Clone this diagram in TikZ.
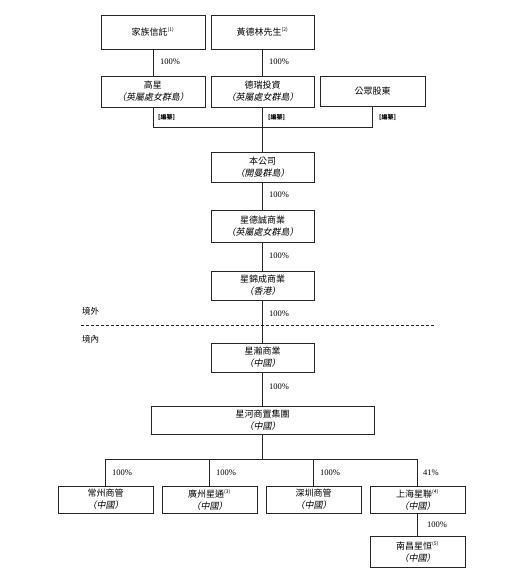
\documentclass[tikz,border=0pt]{standalone}
\usepackage{fontspec}
\setmainfont{Liberation Serif}
\newfontfamily\cjk{Noto Sans CJK TC}
\newfontfamily\cjkit[FakeSlant=0.2]{Noto Sans CJK TC}
\newcommand\fnote[1]{\textsuperscript{\fontsize{5}{5}\selectfont(#1)}}
\begin{document}
\begin{tikzpicture}[x=1pt,y=-1pt,
  ent/.style={draw=black!85,line width=0.9pt,inner sep=0pt,align=center,
    font=\fontsize{9}{12}\selectfont\cjk,minimum height=30pt},
  pct/.style={anchor=west,inner sep=0pt,font=\fontsize{8.5}{10}\selectfont},
  redact/.style={anchor=west,inner sep=0pt,font=\fontsize{6}{7}\selectfont\bfseries\cjk},
  region/.style={anchor=west,inner sep=0pt,font=\fontsize{8.5}{10}\selectfont\cjk},
  link/.style={draw=black!85,line width=0.8pt}]
\useasboundingbox (0,0) rectangle (517,582);
% top row
\node[ent,minimum width=104pt,minimum height=34pt] (jia) at (153,32) {家族信託\fnote{1}};
\node[ent,minimum width=103pt,minimum height=34pt] (huang) at (262.5,32) {黃德林先生\fnote{2}};
% second row
\node[ent,minimum width=104pt,minimum height=31pt] (gx) at (153,91.5) {高星\\{\cjkit （英屬處女群島）}};
\node[ent,minimum width=103pt,minimum height=31pt] (dr) at (262.5,91.5) {德瑞投資\\{\cjkit （英屬處女群島）}};
\node[ent,minimum width=105pt,minimum height=30pt] (gz) at (372.5,91.5) {公眾股東};
% centre column
\node[ent,minimum width=103pt,minimum height=30pt] (co) at (262.5,167) {本公司\\{\cjkit （開曼群島）}};
\node[ent,minimum width=103pt,minimum height=32pt] (xdc) at (262.5,226) {星德誠商業\\{\cjkit （英屬處女群島）}};
\node[ent,minimum width=103pt,minimum height=29pt] (xjc) at (262.5,285.5) {星錦成商業\\{\cjkit （香港）}};
\node[ent,minimum width=103pt,minimum height=29pt] (xh) at (262.5,357.5) {星瀚商業\\{\cjkit （中國）}};
\node[ent,minimum width=223pt,minimum height=28pt] (xhe) at (262.5,420) {星河商置集團\\{\cjkit （中國）}};
% bottom row
\node[ent,minimum width=95pt,minimum height=27pt] (cz) at (105.5,499.5) {常州商管\\{\cjkit （中國）}};
\node[ent,minimum width=95pt,minimum height=27pt] (gzx) at (209.5,499.5) {廣州星通\fnote{3}\\{\cjkit （中國）}};
\node[ent,minimum width=95pt,minimum height=27pt] (sz) at (313.5,499.5) {深圳商管\\{\cjkit （中國）}};
\node[ent,minimum width=95pt,minimum height=27pt] (sh) at (417.5,499.5) {上海星聯\fnote{4}\\{\cjkit （中國）}};
\node[ent,minimum width=95pt,minimum height=31pt] (nc) at (417.5,551.5) {南昌星恒\fnote{5}\\{\cjkit （中國）}};
% connectors
\draw[link] (jia) -- (gx);
\draw[link] (huang) -- (dr);
\coordinate (bus) at (262.5,127);
\draw[link] (gx.south) |- (gz.south |- bus) -- (gz.south);
\draw[link] (dr) -- (co);
\draw[link] (co) -- (xdc);
\draw[link] (xdc) -- (xjc);
\draw[link] (xjc) -- (xh);
\draw[link] (xh) -- (xhe);
\coordinate (hbar) at (262.5,459);
\draw[link] (xhe.south) -- (hbar);
\draw[link] (cz.north) |- (sh.north |- hbar) -- (sh.north);
\draw[link] (gzx.north) -- (gzx.north |- hbar);
\draw[link] (sz.north) -- (sz.north |- hbar);
\draw[link] (sh) -- (nc);
% percentages
\node[pct] (p1) at (160,62) {100\%};
\node[pct] (p2) at (269,62) {100\%};
\node[pct] (p3) at (269,195) {100\%};
\node[pct] (p4) at (269,256) {100\%};
\node[pct] (p5) at (269,314) {100\%};
\node[pct] (p6) at (269,387) {100\%};
\node[pct] (p7) at (112,473) {100\%};
\node[pct] (p8) at (216,473) {100\%};
\node[pct] (p9) at (320,473) {100\%};
\node[pct] (p10) at (423,473) {41\%};
\node[pct] (p11) at (427,525) {100\%};
% redacted
\node[redact] (r1) at (158,117) {[編纂]};
\node[redact] (r2) at (268,117) {[編纂]};
\node[redact] (r3) at (379,117) {[編纂]};
% border
\coordinate (dl) at (81,325);
\coordinate (dr2) at (434,325);
\draw[black!85,line width=0.8pt,dash pattern=on 3pt off 2pt] (dl) -- (dr2);
\node[region] (out) at (82,311) {境外};
\node[region] (in) at (82,339) {境內};
\end{tikzpicture}
\end{document}
